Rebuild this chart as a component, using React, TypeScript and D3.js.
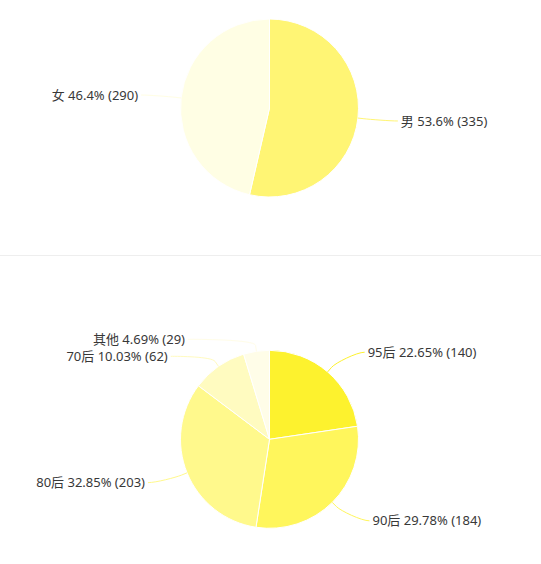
import * as d3 from 'd3';
import * as React from 'react';

const width = 541;
const height = 564;

// top chart: gender
const genderNames = ['男', '女'];
const genderCounts = [335, 290];
const genderPcts = ['53.6%', '46.4%'];
const genderColors = ['#fff574', '#fffee4'];

// bottom chart: age groups
const ageNames = ['95后', '90后', '80后', '70后', '其他'];
const ageCounts = [140, 184, 203, 62, 29];
const agePcts = ['22.65%', '29.78%', '32.85%', '10.03%', '4.69%'];
const ageColors = ['#fdf22e', '#fff65c', '#fff98c', '#fffbc0', '#fffde8'];

const radius = 89;
const cx = 269.5;
const fontFamily = '"Noto Sans", "Noto Sans CJK SC", sans-serif';

type Slice = { name: string; count: number; pct: string; color: string };

const makeSlices = (names: string[], counts: number[], pcts: string[], colors: string[]): Slice[] =>
  names.map((name, i) => ({ name, count: counts[i], pct: pcts[i], color: colors[i] }));

const Pie = ({ slices, cy }: { slices: Slice[]; cy: number }) => {
  const pie = d3.pie<Slice>().sort(null).value(d => d.count);
  const arcs = pie(slices);
  const arc = d3.arc<d3.PieArcDatum<Slice>>().innerRadius(0).outerRadius(radius);

  const labelR = radius + 26;
  const xR = radius + 40;
  const pad = 3;
  const minGap = 17;
  const topLimit = cy - radius - 11;

  const labels = arcs.map(a => {
    const mid = (a.startAngle + a.endAngle) / 2;
    const right = Math.sin(mid) >= 0;
    return { a, mid, right, y: cy - labelR * Math.cos(mid), x: 0 };
  });

  // resolve collisions per side
  [true, false].forEach(side => {
    const group = labels.filter(l => l.right === side).sort((p, q) => p.y - q.y);
    group.forEach((l, i) => {
      if (l.y < topLimit) l.y = topLimit;
      if (i > 0 && l.y - group[i - 1].y < minGap) l.y = group[i - 1].y + minGap;
    });
  });

  labels.forEach(l => {
    const dy = l.y - cy;
    const dx = Math.sqrt(Math.max(0, xR * xR - dy * dy));
    l.x = cx + (l.right ? dx : -dx);
  });

  return (
    <g>
      <g transform={`translate(${cx},${cy})`}>
        {arcs.map((a, i) => (
          <path key={i} d={arc(a) || ''} fill={a.data.color} stroke="#fff" strokeWidth={1} />
        ))}
      </g>
      {labels.map((l, i) => {
        const ex = cx + radius * Math.sin(l.mid);
        const ey = cy - radius * Math.cos(l.mid);
        const mx = cx + (radius + 6) * Math.sin(l.mid);
        const my = cy - (radius + 6) * Math.cos(l.mid);
        const path = d3.path();
        path.moveTo(ex, ey);
        path.lineTo(mx, my);
        path.bezierCurveTo(2 * mx - ex, 2 * my - ey, l.x + (l.right ? -8 : 8), l.y, l.x, l.y);
        return (
          <g key={i}>
            <path d={path.toString()} fill="none" stroke={l.a.data.color} strokeWidth={1} />
            <text
              x={l.x + (l.right ? pad : -pad)}
              y={l.y}
              dy="0.35em"
              textAnchor={l.right ? 'start' : 'end'}
              fontSize={13}
              fontFamily={fontFamily}
              fill="#383838"
            >
              {`${l.a.data.name} ${l.a.data.pct} (${l.a.data.count})`}
            </text>
          </g>
        );
      })}
    </g>
  );
};

export default function App() {
  const gender = makeSlices(genderNames, genderCounts, genderPcts, genderColors);
  const age = makeSlices(ageNames, ageCounts, agePcts, ageColors);
  return (
    <svg
      width={width}
      height={height}
      style={{ position: 'absolute', left: 0, top: 0, background: '#fff' }}
    >
      <Pie slices={gender} cy={108} />
      <line x1={0} x2={width} y1={255.5} y2={255.5} stroke="#eeeeee" strokeWidth={1} />
      <Pie slices={age} cy={439.3} />
    </svg>
  );
}
